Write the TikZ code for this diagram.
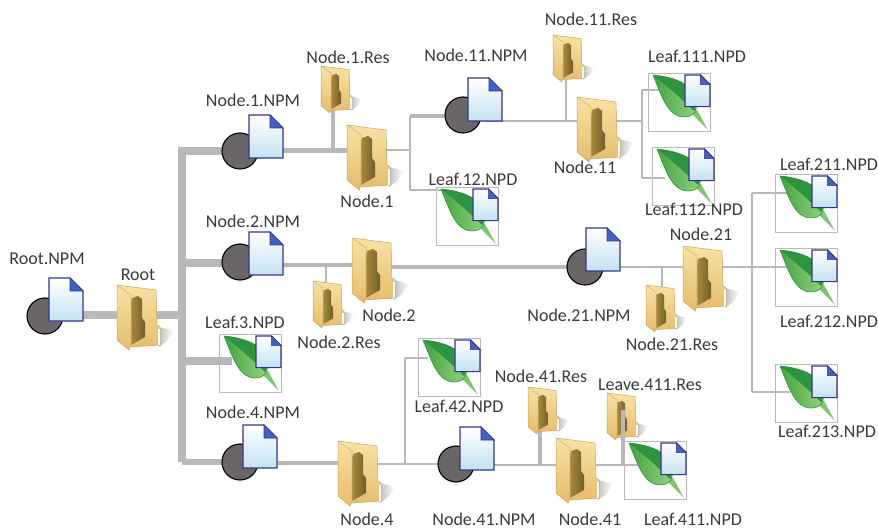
\documentclass[tikz,border=0pt]{standalone}
\usepackage{fontspec}
\setmainfont{Carlito}
\usetikzlibrary{fadings}
\definecolor{ln}{HTML}{B8B8B8}
\definecolor{txt}{HTML}{3A3A3A}
\definecolor{fa}{HTML}{F8E2A4}
\definecolor{fb}{HTML}{E6BC6C}
\definecolor{fo}{HTML}{C6A25E}
\definecolor{fd}{HTML}{A98A3C}
\definecolor{dk}{HTML}{35358F}
\definecolor{fold}{HTML}{3F63C4}
\definecolor{docb}{HTML}{C4E2F0}
\definecolor{circ}{HTML}{6A6668}
\definecolor{leafd}{HTML}{2F9440}
\definecolor{leafm}{HTML}{45A244}
\definecolor{leafl}{HTML}{96D47E}
\tikzfading[name=fadesh,left color=transparent!35,right color=transparent!100]
\tikzset{
  x=1pt,y=-1pt,
  small/.style={transform shape,scale=.72},
  lab/.style={font=\fontsize{18}{20}\selectfont,text=txt,inner sep=0pt,anchor=center},
  trunk/.style={ln,line width=7.5pt},
  wide/.style={ln,line width=5pt},
  mid/.style={ln,line width=3.4pt},
  thin/.style={ln,line width=2.4pt},
  folder/.pic={
    \fill[gray!75,path fading=fadesh] (42,42)--(57,46)--(50,56)--(42,62)--cycle;
    \path[draw=fo,line width=.5pt,top color=fa,bottom color=fb] (0,0)--(39,5)--(40,40)--(43,42)--(43,60)--(13,62)--(12,65)--(0,55)--cycle;
    \fill[white!92!fb] (40.5,44)--(43,44)--(43,60)--(40.5,60)--cycle;
    \path[left color=fd,right color=fd!60!black!90!fb] (15,13)--(21,11)--(25,14)--(25,33)--(28,37)--(28,52)--(14,60)--(14,20)--cycle;
    \draw[fo!80!white,line width=.6pt] (0,0)--(14,10)--(14,60)--(12,65);
  },
  docshape/.pic={
    \path[draw=dk,line width=1.2pt,top color=white,bottom color=docb] (0,0)--(21,0)--(34,13)--(34,43)--(0,43)--cycle;
    \fill[fold,draw=dk,line width=.6pt] (21,0)--(34,13)--(21,13)--cycle;
  },
  npm/.pic={
    \fill[circ,draw=black,line width=1.1pt] (-18,0) arc[start angle=180,end angle=-180,radius=18pt];
  },
  leaf/.pic={
    \draw[gray!55,line width=.7pt] (0,0) rectangle (62,58);
    \fill[leafl!70!leafm] (41,38)--(49,37)--(60,57)--cycle;
    \path[draw=leafd,line width=.6pt,left color=leafm,right color=leafl] (5,2) .. controls (14,24) and (20,44) .. (36,44) .. controls (47,44) and (50,36) .. (48,26) .. controls (44,10) and (25,4) .. (5,2) -- cycle;
    \fill[leafd] (5,2) .. controls (25,4) and (44,10) .. (48,26) .. controls (49,32) and (48,36) .. (46,38) .. controls (34,26) and (20,14) .. (5,2) -- cycle;
    \begin{scope}[shift={(37,2)},transform shape,scale=.735]
      \pic {docshape};
    \end{scope}
  },
}
\newcommand{\npmicon}[4]{% circle x,y, doc x,y
  \pic at (#1,#2) {npm};
  \pic at (#3,#4) {docshape};
}
\begin{document}
\begin{tikzpicture}
\useasboundingbox (0,0) rectangle (878,529);
% connector anchors
\coordinate (rn) at (66,315);
\coordinate (r) at (138,315);
\coordinate (tr) at (182,315);
\coordinate (t1) at (182,151);
\coordinate (t2) at (182,263);
\coordinate (t3) at (182,361);
\coordinate (t4) at (182,462);
\coordinate (n1n) at (262,151);
\coordinate (n1) at (368,151);
\coordinate (n1r) at (333,151);
\coordinate (r1) at (333,100);
\coordinate (j1) at (410,150);
\coordinate (n1e) at (368,150);
\coordinate (j1a) at (410,116);
\coordinate (j1b) at (410,190);
\coordinate (n11n) at (485,116);
\coordinate (n11w) at (485,121);
\coordinate (l12) at (445,190);
\coordinate (n11) at (598,121);
\coordinate (n11r) at (566,121);
\coordinate (r11) at (566,80);
\coordinate (j11) at (642,121);
\coordinate (j11a) at (642,90);
\coordinate (j11b) at (642,178);
\coordinate (l111) at (660,90);
\coordinate (l112) at (665,178);
\coordinate (n2n) at (262,265);
\coordinate (n2) at (372,265);
\coordinate (n2e) at (372,267);
\coordinate (n2r) at (326,265);
\coordinate (r2) at (326,300);
\coordinate (n21n) at (600,267);
\coordinate (n21) at (702,267);
\coordinate (n21r) at (662,267);
\coordinate (r21) at (662,300);
\coordinate (j21) at (752,267);
\coordinate (j21a) at (752,193);
\coordinate (j21b) at (752,392);
\coordinate (l211) at (790,193);
\coordinate (l212) at (790,267);
\coordinate (l213) at (790,392);
\coordinate (l3) at (232,361);
\coordinate (n4n) at (260,463);
\coordinate (n4) at (358,463);
\coordinate (n4e) at (358,464);
\coordinate (j4) at (405,464);
\coordinate (j4a) at (405,358);
\coordinate (l42) at (428,358);
\coordinate (n41n) at (477,465);
\coordinate (n41) at (577,465);
\coordinate (n41r) at (540,465);
\coordinate (r41) at (540,420);
\coordinate (l411r) at (623,465);
\coordinate (l411) at (640,465);
\coordinate (r411) at (623,410);
% connectors
\draw[trunk] (182,147) -- (t4);
\draw[trunk] (rn) -- (r); \draw[trunk] (r) -- (tr);
\draw[trunk] (t1) -- (n1n);
\draw[trunk] (t2) -- (t2-|n2n);
\draw[trunk] (t3) -- (l3);
\draw[trunk,line width=6pt] (t4) -- (t4-|n4n);
\draw[wide] (n1n) -- (n1);
\draw[mid] (n1r) -- (r1);
\draw[thin] (n1e) -- (j1);
\draw[thin] (j1a) -- (j1b);
\draw[mid] (j1a) -- (n11n);
\draw[thin] (j1b) -- (l12);
\draw[thin] (n11w) -- (n11);
\draw[thin] (n11r) -- (r11);
\draw[thin] (n11) -- (j11);
\draw[thin] (j11a) -- (j11b);
\draw[thin] (j11a) -- (l111);
\draw[thin] (j11b) -- (l112);
\draw[wide,line width=4pt] (n2n) -- (n2);
\draw[thin] (n2r) -- (r2);
\draw[mid] (n2e) -- (n21n);
\draw[thin] (n21n) -- (n21);
\draw[thin] (n21r) -- (r21);
\draw[thin] (n21) -- (j21);
\draw[thin] (j21) -- (l212);
\draw[thin] (j21a) -- (j21b);
\draw[thin] (j21a) -- (l211);
\draw[thin] (j21b) -- (l213);
\draw[wide,line width=4pt] (n4n) -- (n4);
\draw[thin] (n4e) -- (j4);
\draw[thin] (j4) -- (j4a);
\draw[thin] (j4a) -- (l42);
\draw[thin] (j4) -- (n41n |- j4);
\draw[thin] (n41n) -- (n41);
\draw[mid] (n41r) -- (r41);
\draw[thin] (n41) -- (l411);
% icons
\npmicon{45}{316}{49}{278}
\npmicon{240}{151}{249}{115}
\npmicon{240}{262}{249}{232}
\npmicon{240}{462}{243}{425}
\npmicon{463}{115}{468}{78}
\npmicon{585}{267}{586}{228}
\npmicon{456}{464}{460}{427}
\pic at (117,285) {folder};
\pic at (347,125) {folder};
\pic at (352,238) {folder};
\pic at (338,441) {folder};
\pic at (577,97) {folder};
\pic at (683,246) {folder};
\pic at (556,438) {folder};
\begin{scope}[shift={(321,66)},small] \pic {folder}; \end{scope}
\begin{scope}[shift={(313,281)},small] \pic {folder}; \end{scope}
\begin{scope}[shift={(553,35)},small] \pic {folder}; \end{scope}
\begin{scope}[shift={(646,285)},small] \pic {folder}; \end{scope}
\begin{scope}[shift={(528,387)},small] \pic {folder}; \end{scope}
\begin{scope}[shift={(607,393)},small] \pic {folder}; \end{scope}
\draw[mid] (l411r) -- (r411);
\pic at (219,334) {leaf};
\pic at (436,187) {leaf};
\pic at (648,73) {leaf};
\pic at (652,147) {leaf};
\pic at (775,174) {leaf};
\pic at (775,248) {leaf};
\pic at (775,364) {leaf};
\pic at (418,338) {leaf};
\pic at (624,441) {leaf};
% labels
\node[lab] (t01) at (47,259) {Root.NPM};
\node[lab] (t02) at (138,275) {Root};
\node[lab] (t03) at (253,100) {Node.1.NPM};
\node[lab] (t04) at (348,57) {Node.1.Res};
\node[lab] (t05) at (476,55) {Node.11.NPM};
\node[lab] (t06) at (591,19) {Node.11.Res};
\node[lab] (t07) at (697,56) {Leaf.111.NPD};
\node[lab] (t08) at (367,201) {Node.1};
\node[lab] (t09) at (473,179) {Leaf.12.NPD};
\node[lab] (t10) at (585,167) {Node.11};
\node[lab] (t11) at (694,209) {Leaf.112.NPD};
\node[lab] (t12) at (829,164) {Leaf.211.NPD};
\node[lab] (t13) at (253,221) {Node.2.NPM};
\node[lab] (t14) at (701,234) {Node.21};
\node[lab] (t15) at (389,315) {Node.2};
\node[lab] (t16) at (579,315) {Node.21.NPM};
\node[lab] (t17) at (672,344) {Node.21.Res};
\node[lab] (t18) at (339,342) {Node.2.Res};
\node[lab] (t19) at (829,321) {Leaf.212.NPD};
\node[lab] (t20) at (827,431) {Leaf.213.NPD};
\node[lab] (t21) at (245,322) {Leaf.3.NPD};
\node[lab] (t22) at (459,406) {Leaf.42.NPD};
\node[lab] (t23) at (541,376) {Node.41.Res};
\node[lab] (t24) at (650,385) {Leave.411.Res};
\node[lab] (t25) at (253,412) {Node.4.NPM};
\node[lab] (t26) at (367,519) {Node.4};
\node[lab] (t27) at (484,519) {Node.41.NPM};
\node[lab] (t28) at (590,519) {Node.41};
\node[lab] (t29) at (693,519) {Leaf.411.NPD};
\end{tikzpicture}
\end{document}
